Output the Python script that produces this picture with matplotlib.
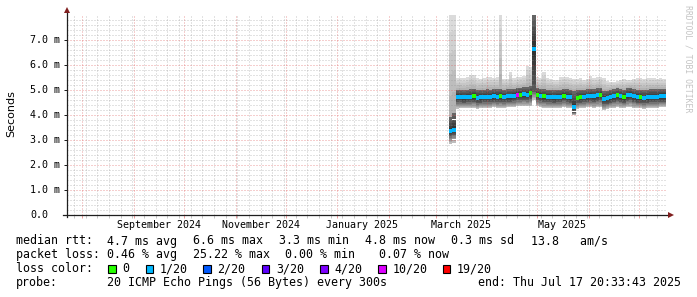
import numpy as np
import pandas as pd
import matplotlib
matplotlib.use("Agg")
import matplotlib.pyplot as plt
import matplotlib.dates as mdates
from matplotlib.patches import Rectangle

# ── Data ───────────────────────────────────────────────────────────────────
RANGE_END = pd.Timestamp("2025-07-17 20:33:43")
RANGE_DAYS = 360
FIRST_SAMPLE = pd.Timestamp("2025-03-09 00:00")
STEP_DAYS = 2

MEDIAN_MS = [3.35, 3.40, 4.72, 4.72, 4.70, 4.72, 4.72, 4.74, 4.68, 4.70,
             4.72, 4.72, 4.72, 4.74, 4.72, 4.74, 4.72, 4.74, 4.74, 4.76,
             4.80, 4.80, 4.82, 4.80, 4.86, 6.65, 4.80, 4.76, 4.74, 4.72,
             4.72, 4.70, 4.72, 4.72, 4.76, 4.72, 4.70, 4.30, 4.68, 4.70,
             4.72, 4.74, 4.76, 4.74, 4.78, 4.80, 4.64, 4.66, 4.70, 4.74,
             4.78, 4.74, 4.70, 4.78, 4.80, 4.74, 4.70, 4.70, 4.68, 4.70,
             4.72, 4.72, 4.72, 4.74, 4.74]

# average lost pings (of 20) per sample
LOSS_PINGS = [0.1, 0.1, 0.1, 0.1, 0.1, 0.1, 0.1, 0, 0.1, 0.1,
              0.1, 0.1, 0.1, 0.1, 0.1, 0, 0.1, 0.1, 0.1, 0.1,
              5, 0, 0.1, 0.1, 0, 0.1, 0, 0.1, 0, 0.1,
              0.1, 0.1, 0.1, 0.1, 0, 0.1, 0.1, 0.1, 0, 0,
              0.1, 0.1, 0.1, 0.1, 0.1, 0, 0.1, 0.1, 0.1, 0.1,
              0, 0.1, 0, 0.1, 0.1, 0.1, 0.1, 0, 0.1, 0.1,
              0.1, 0.1, 0.1, 0.1, 0.1]

PING_MIN = [2.85, 2.90, 4.25, 4.28, 4.28, 4.26, 4.28, 4.28, 4.24, 4.26,
            4.28, 4.28, 4.28, 4.30, 4.28, 4.28, 4.28, 4.30, 4.30, 4.30,
            4.34, 4.34, 4.36, 4.34, 4.36, 4.60, 4.34, 4.30, 4.28, 4.28,
            4.28, 4.26, 4.28, 4.28, 4.30, 4.28, 4.26, 3.98, 4.24, 4.26,
            4.28, 4.30, 4.30, 4.28, 4.30, 4.30, 4.20, 4.22, 4.26, 4.28,
            4.30, 4.28, 4.26, 4.30, 4.32, 4.28, 4.26, 4.26, 4.24, 4.26,
            4.28, 4.28, 4.28, 4.30, 4.30]

PING_LO = [3.15, 3.20, 4.50, 4.50, 4.48, 4.50, 4.50, 4.52, 4.46, 4.48,
           4.50, 4.50, 4.50, 4.52, 4.50, 4.52, 4.50, 4.52, 4.52, 4.54,
           4.58, 4.58, 4.60, 4.58, 4.62, 4.90, 4.58, 4.54, 4.52, 4.50,
           4.50, 4.48, 4.50, 4.50, 4.54, 4.50, 4.48, 4.10, 4.46, 4.48,
           4.50, 4.52, 4.54, 4.52, 4.56, 4.58, 4.42, 4.44, 4.48, 4.52,
           4.56, 4.52, 4.48, 4.56, 4.58, 4.52, 4.48, 4.48, 4.46, 4.48,
           4.50, 4.50, 4.50, 4.52, 4.52]

PING_HI = [3.90, 4.10, 5.00, 5.00, 4.98, 5.00, 5.02, 5.04, 4.98, 5.00,
           5.00, 5.02, 5.00, 5.04, 5.02, 5.04, 5.00, 5.02, 5.02, 5.04,
           5.08, 5.08, 5.10, 5.10, 5.14, 8.10, 5.08, 5.04, 5.02, 5.00,
           5.00, 4.98, 5.00, 5.00, 5.04, 5.02, 5.00, 4.95, 4.98, 5.00,
           5.00, 5.02, 5.04, 5.02, 5.06, 5.08, 4.94, 4.96, 5.00, 5.02,
           5.06, 5.02, 5.00, 5.06, 5.08, 5.02, 5.00, 5.00, 4.98, 5.00,
           5.02, 5.02, 5.02, 5.04, 5.04]

PING_MAX = [8.20, 8.20, 5.47, 5.47, 5.47, 5.50, 5.58, 5.58, 5.47, 5.45,
            5.47, 5.50, 5.52, 5.48, 5.50, 8.10, 5.45, 5.44, 5.70, 5.46,
            5.50, 5.52, 5.55, 5.95, 5.90, 8.30, 5.50, 5.47, 5.70, 5.47,
            5.45, 5.40, 5.40, 5.50, 5.52, 5.53, 5.48, 5.45, 5.42, 5.47,
            5.40, 5.45, 5.56, 5.47, 5.50, 5.52, 5.47, 5.35, 5.33, 5.33,
            5.35, 5.40, 5.42, 5.40, 5.40, 5.45, 5.47, 5.47, 5.45, 5.47,
            5.47, 5.47, 5.45, 5.47, 5.45]

LOSS_LEVELS = [0, 1, 2, 3, 4, 10, 19]
LOSS_NAMES = ["0", "1/20", "2/20", "3/20", "4/20", "10/20", "19/20"]
LOSS_COLORS = ["#26ff00", "#00b8ff", "#0059ff", "#5e00ff", "#7e00ff", "#dd00ff", "#ff0000"]

Y_TICKS = [0, 1, 2, 3, 4, 5, 6, 7]
Y_LABELS = ["0.0", "1.0 m", "2.0 m", "3.0 m", "4.0 m", "5.0 m", "6.0 m", "7.0 m"]
X_LABEL_MONTHS = ["2024-09-01", "2024-11-01", "2025-01-01", "2025-03-01", "2025-05-01"]
X_LABELS = ["September 2024", "November 2024", "January 2025", "March 2025", "May 2025"]

RTT_STATS = ["4.7 ms avg", "6.6 ms max", "3.3 ms min", "4.8 ms now", "0.3 ms sd", "13.8   am/s"]
LOSS_STATS = ["0.46 % avg", "25.22 % max", "0.00 % min", "0.07 % now"]
PROBE_TEXT = "20 ICMP Echo Pings (56 Bytes) every 300s"
END_TEXT = "end: Thu Jul 17 20:33:43 2025"

# ── Layout (pixels) ────────────────────────────────────────────────────────
W, H = 697, 297
PLOT_L, PLOT_B, PLOT_W, PLOT_H = 67, 215, 600, 200
ROW_Y = [244.5, 258.3, 272.2, 286.0]
RTT_X = [106.7, 192.7, 279.3, 364.7, 451.0, 530.7]
LOSS_X = [106.7, 193.3, 285.0, 379.0]
SWATCH_X = [108.3, 145.7, 203.0, 261.7, 320.0, 378.3, 442.7]

MONO = "DejaVu Sans Mono"
MINOR_GRID = (0.56, 0.56, 0.56, 0.50)
MAJOR_GRID = (0.87, 0.31, 0.31, 0.55)
GRID_DASH = (0, (1, 2))
ARROW = "#801f1f"
AXIS = "#1f1f1f"

n = len(MEDIAN_MS)
for arr in (LOSS_PINGS, PING_MIN, PING_LO, PING_HI, PING_MAX):
    assert len(arr) == n


def loss_color(lost):
    last = -1
    for lvl, col in zip(LOSS_LEVELS, LOSS_COLORS):
        if last < lost <= lvl:
            return col
        last = lvl
    return LOSS_COLORS[-1]


def fig_text(fig, x, y, s, **kw):
    fig.text(x / W, 1 - y / H, s, **kw)


start = RANGE_END - pd.Timedelta(days=RANGE_DAYS)
times = FIRST_SAMPLE + pd.to_timedelta(np.arange(n) * STEP_DAYS, unit="D")
x = mdates.date2num(times.to_pydatetime())

fig = plt.figure(figsize=(W / 100, H / 100), dpi=100, facecolor="white")
ax = fig.add_axes([PLOT_L / W, (H - PLOT_B) / H, PLOT_W / W, PLOT_H / H])
ax.set_xlim(mdates.date2num(start.to_pydatetime()), mdates.date2num(RANGE_END.to_pydatetime()))
ax.set_ylim(0, 8)
for s in ax.spines.values():
    s.set_visible(False)

# ── Smoke (sorted ping spread) ─────────────────────────────────────────────
SMOKE_STEPS = 5


def draw_smoke(lower, upper, shade_from, shade_to):
    lower = np.asarray(lower)
    upper = np.asarray(upper)
    for j in range(SMOKE_STEPS):
        a = lower + (upper - lower) * j / SMOKE_STEPS
        b = lower + (upper - lower) * (j + 1) / SMOKE_STEPS
        g = shade_from + (shade_to - shade_from) * (j + 0.5) / SMOKE_STEPS
        ax.bar(x, b - a, bottom=a, width=STEP_DAYS, align="edge",
               color=(g, g, g), linewidth=0, antialiased=False, zorder=2)


draw_smoke(PING_MIN, PING_LO, 0.78, 0.42)
draw_smoke(PING_LO, MEDIAN_MS, 0.36, 0.18)
draw_smoke(MEDIAN_MS, PING_HI, 0.18, 0.42)
draw_smoke(PING_HI, PING_MAX, 0.68, 0.88)

# median, coloured by packet loss
med = np.asarray(MEDIAN_MS)
ax.bar(x, 0.16, bottom=med - 0.08, width=STEP_DAYS, align="edge",
       color=[loss_color(l) for l in LOSS_PINGS], linewidth=0,
       antialiased=False, zorder=5)

# ── Grid ───────────────────────────────────────────────────────────────────
month_starts = pd.date_range(start.normalize(), RANGE_END, freq="MS")
month_starts = month_starts[month_starts > start]
week_lines = pd.date_range(start.normalize(), RANGE_END, freq="W-SAT")
week_lines = week_lines[(week_lines > start) & ~week_lines.isin(month_starts)]

for v in np.arange(0.2, 8.0, 0.2):
    if abs(v - round(v)) > 1e-6:
        ax.axhline(v, color=MINOR_GRID, lw=0.72, ls=GRID_DASH, zorder=4)
for d in week_lines:
    ax.axvline(mdates.date2num(d.to_pydatetime()), color=MINOR_GRID, lw=0.72,
               ls=GRID_DASH, zorder=4)
for v in Y_TICKS[1:]:
    ax.axhline(v, color=MAJOR_GRID, lw=0.72, ls=GRID_DASH, zorder=4)
for d in month_starts:
    ax.axvline(mdates.date2num(d.to_pydatetime()), color=MAJOR_GRID, lw=0.72,
               ls=GRID_DASH, zorder=4)

# ticks below the x axis, left of the y axis
ax.set_xticks(mdates.date2num(month_starts.to_pydatetime()))
ax.set_xticks(mdates.date2num(week_lines.to_pydatetime()), minor=True)
ax.tick_params(axis="x", which="major", length=1.8, width=0.72,
               color=MAJOR_GRID, labelbottom=False)
ax.tick_params(axis="x", which="minor", length=1.8, width=0.72,
               color=MINOR_GRID, labelbottom=False)
ax.set_yticks(Y_TICKS)
ax.tick_params(axis="y", which="major", length=2.5, width=0.72,
               color=AXIS, labelleft=False)

# ── Axes lines and arrows ──────────────────────────────────────────────────
ax.plot([-4 / PLOT_W, 1 + 2 / PLOT_W], [0, 0], transform=ax.transAxes,
        color=AXIS, lw=0.9, clip_on=False, zorder=6)
ax.plot([0, 0], [-2 / PLOT_H, 1 + 2 / PLOT_H], transform=ax.transAxes,
        color=AXIS, lw=0.9, clip_on=False, zorder=6)
ax.plot([1 + 4 / PLOT_W], [0], marker=">", ms=4.2, color=ARROW, mew=0,
        transform=ax.transAxes, clip_on=False, zorder=7)
ax.plot([0], [1 + 4.5 / PLOT_H], marker="^", ms=4.2, color=ARROW, mew=0,
        transform=ax.transAxes, clip_on=False, zorder=7)

# ── Tick labels ────────────────────────────────────────────────────────────
ytr = ax.get_yaxis_transform()
for v, lab in zip(Y_TICKS, Y_LABELS):
    ax.text((30 - PLOT_L) / PLOT_W, v - 0.13, lab, transform=ytr, ha="left",
            va="baseline", fontsize=7.2, family=MONO, color="black")

xtr = ax.get_xaxis_transform()
for m, lab in zip(X_LABEL_MONTHS, X_LABELS):
    pos = pd.Timestamp(m) + pd.Timedelta(days=15)
    ax.text(mdates.date2num(pos.to_pydatetime()), -13 / PLOT_H, lab,
            transform=xtr, ha="center", va="baseline", fontsize=7.2,
            family=MONO, color="black")

fig_text(fig, 11, 113.5, "Seconds", rotation=90, ha="center", va="center",
         fontsize=8, family="DejaVu Sans", color="black")
fig_text(fig, 688, 5, "RRDTOOL / TOBI OETIKER", rotation=270, ha="center",
         va="top", fontsize=5.9, family=MONO, color="#c4c4c4")

# ── Legend ─────────────────────────────────────────────────────────────────
leg = dict(fontsize=8.4, family=MONO, color="black", va="baseline", ha="left")
fig_text(fig, 16, ROW_Y[0], "median rtt:", **leg)
for px, s in zip(RTT_X, RTT_STATS):
    fig_text(fig, px, ROW_Y[0], s, **leg)

fig_text(fig, 16, ROW_Y[1], "packet loss:", **leg)
for px, s in zip(LOSS_X, LOSS_STATS):
    fig_text(fig, px, ROW_Y[1], s, **leg)

fig_text(fig, 16, ROW_Y[2], "loss color:", **leg)
for px, name, col in zip(SWATCH_X, LOSS_NAMES, LOSS_COLORS):
    fig.add_artist(Rectangle((px / W, 1 - 273 / H), 7.5 / W, 8 / H,
                             transform=fig.transFigure, facecolor=col,
                             edgecolor="black", lw=0.8))
    fig_text(fig, px + 14.3, ROW_Y[2], name, **leg)

fig_text(fig, 16, ROW_Y[3], "probe:", **leg)
fig_text(fig, 107.3, ROW_Y[3], PROBE_TEXT, **leg)
fig_text(fig, 478.3, ROW_Y[3], END_TEXT, **leg)

fig.savefig("out.png", dpi=100, facecolor="white")
